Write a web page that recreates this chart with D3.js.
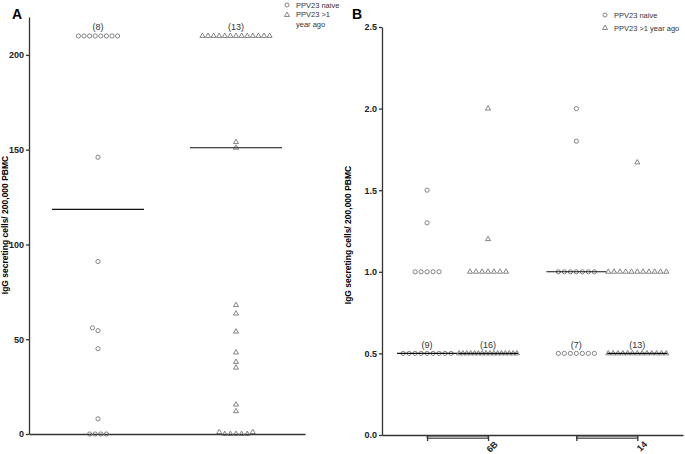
<!DOCTYPE html>
<html>
<head>
<meta charset="utf-8">
<script src="https://cdn.jsdelivr.net/npm/d3@7"></script>
<style>
  body { margin: 0; background: #fff; }
  svg { font-family: "Liberation Sans", Arial, sans-serif; }
  .tick text { font-weight: bold; font-size: 9px; fill: #222; }
  .axis path, .axis line { stroke: #333; stroke-width: 1.3; }
</style>
</head>
<body>
<div id="chart"></div>
<script>
// ---------------- data ----------------
// panel A: total IgG secreting cells, two groups
var groupsA = ["PPV23 naive", "PPV23 >1 year ago"];
var naiveA = [210, 210, 210, 210, 210, 210, 210, 210, 146, 91, 56, 54.5, 45, 8, 0, 0, 0, 0];
var priorA = [210, 210, 210, 210, 210, 210, 210, 210, 210, 210, 210, 210, 210,
              154, 151, 68, 63.5, 54, 43, 38, 35, 15.5, 12, 1, 0, 0, 0, 0, 0, 1];
var mediansA = [118.5, 151];
var countAtA = [210, 210];     // the row that carries the "(n)" label
var ticksA = [0, 50, 100, 150, 200];

// panel B: serotype specific, two serotypes x two groups
var serotypesB = ["6B", "14"];
var naive6B = [1.5, 1.3, 1, 1, 1, 1, 1, 0.5, 0.5, 0.5, 0.5, 0.5, 0.5, 0.5, 0.5, 0.5];
var prior6B = [2.0, 1.2, 1, 1, 1, 1, 1, 1, 1,
               0.5, 0.5, 0.5, 0.5, 0.5, 0.5, 0.5, 0.5, 0.5, 0.5, 0.5, 0.5, 0.5, 0.5, 0.5, 0.5];
var naive14 = [2.0, 1.8, 1, 1, 1, 1, 1, 1, 1, 0.5, 0.5, 0.5, 0.5, 0.5, 0.5, 0.5];
var prior14 = [1.67, 1, 1, 1, 1, 1, 1, 1, 1, 1, 1, 1,
               0.5, 0.5, 0.5, 0.5, 0.5, 0.5, 0.5, 0.5, 0.5, 0.5, 0.5, 0.5, 0.5];
var mediansB = [0.5, 0.5, 1.0, 0.5];
var countAtB = [0.5, 0.5, 0.5, 0.5];
var ticksB = [0, 0.5, 1.0, 1.5, 2.0, 2.5];
var positionsB = [1, 2, 3.45, 4.45];   // column positions on the x scale

var width = 685, height = 454;
var ptColor = "#666";

var svg = d3.select("#chart").append("svg")
    .attr("width", width).attr("height", height);

var tri = d3.symbol().type(d3.symbolTriangle).size(11);

// simple column scatter layout: spread equal values sideways, squeeze long rows
function swarm(values, y, s, maxW) {
    var sorted = values.slice().sort(function (a, b) { return a - b; });
    var pts = [];
    sorted.forEach(function (v) {
        var yy = y(v);
        for (var k = 0; k < 60; k++) {
            var off = (k % 2 ? -1 : 1) * Math.ceil(k / 2) * s;
            var hit = pts.some(function (p) {
                return Math.hypot(p.dx - off, p.y - yy) < s * 0.95;
            });
            if (!hit) { pts.push({ v: v, y: yy, dx: off }); break; }
        }
    });
    var rows = d3.group(pts, function (p) { return p.v; });
    rows.forEach(function (row) {
        if (row.length < 2) return;
        var m = d3.mean(row, function (p) { return p.dx; });
        var ext = d3.extent(row, function (p) { return p.dx; });
        var k = (ext[1] - ext[0]) > maxW ? maxW / (ext[1] - ext[0]) : 1;
        row.forEach(function (p) { p.dx = (p.dx - m) * k; });
    });
    return pts;
}

function drawPoints(g, pts, cx, shape) {
    if (shape === "circle") {
        g.selectAll(null).data(pts).enter().append("circle")
            .attr("cx", function (p) { return cx + p.dx; })
            .attr("cy", function (p) { return p.y; })
            .attr("r", 2.1)
            .attr("fill", "none").attr("stroke", ptColor).attr("stroke-width", 0.8);
    } else {
        g.selectAll(null).data(pts).enter().append("path")
            .attr("d", tri)
            .attr("transform", function (p) { return "translate(" + (cx + p.dx) + "," + p.y + ")"; })
            .attr("fill", "none").attr("stroke", ptColor).attr("stroke-width", 0.8);
    }
}

function legend(g, x, y, lines, gap) {
    var row = g.append("g").attr("transform", "translate(" + x + "," + y + ")")
        .style("font-size", "7.5px").style("fill", "#333");
    row.append("circle").attr("cx", 0).attr("cy", 0).attr("r", 2)
        .attr("fill", "none").attr("stroke", ptColor).attr("stroke-width", 0.8);
    row.append("path").attr("d", tri).attr("transform", "translate(0," + gap + ")")
        .attr("fill", "none").attr("stroke", ptColor).attr("stroke-width", 0.8);
    lines.forEach(function (l) {
        row.append("text").attr("x", 9).attr("y", l.y + 2.7).text(l.t);
    });
}

function countLabel(g, x, y, n) {
    g.append("text").attr("x", x).attr("y", y).attr("text-anchor", "middle")
        .style("font-size", "9px").style("fill", "#333").text("(" + n + ")");
}

// ================= panel A =================
var yA = d3.scaleLinear().domain([0, 220]).range([434, 17]);
var xA = d3.scalePoint().domain(groupsA).range([29, 305]).padding(0.5);
var gA = svg.append("g");

gA.append("g").attr("class", "axis").attr("transform", "translate(29,0)")
    .call(d3.axisLeft(yA).tickValues(ticksA).tickSize(3).tickSizeOuter(0).tickPadding(2));
gA.append("g").attr("class", "axis").attr("transform", "translate(0," + yA(0) + ")")
    .call(d3.axisBottom(d3.scaleLinear().range([29, 305])).tickValues([]).tickSizeOuter(0));

[naiveA, priorA].forEach(function (vals, i) {
    var cx = xA(groupsA[i]);
    var pts = swarm(vals, yA, 5.6, 90);
    drawPoints(gA, pts, cx, i === 0 ? "circle" : "triangle");
    var half = xA.step() / 3;
    gA.append("line").attr("x1", cx - half).attr("x2", cx + half)
        .attr("y1", yA(mediansA[i])).attr("y2", yA(mediansA[i]))
        .attr("stroke", "#111").attr("stroke-width", 1.1);
    var n = vals.filter(function (v) { return v === countAtA[i]; }).length;
    countLabel(gA, cx, yA(countAtA[i]) - 6, n);
});

gA.append("text").attr("x", 12).attr("y", 19).style("font-weight", "bold")
    .style("font-size", "14px").text("A");
gA.append("text").attr("transform", "translate(8,225) rotate(-90)")
    .attr("text-anchor", "middle").style("font-weight", "bold").style("font-size", "8.5px")
    .text("IgG secreting cells/ 200,000 PBMC");
legend(gA, 287, 5, [{ t: "PPV23 naive", y: 0 }, { t: "PPV23 >1", y: 9.5 }, { t: "year ago", y: 19 }], 10);

// ================= panel B =================
var yB = d3.scaleLinear().domain([0, 2.5]).range([435, 27]);
var xB = d3.scaleLinear().domain([0.26, 5.2]).range([382, 683]);
var gB = svg.append("g");

gB.append("g").attr("class", "axis").attr("transform", "translate(382,0)")
    .call(d3.axisLeft(yB).tickValues(ticksB).tickSize(3).tickSizeOuter(0).tickPadding(2)
        .tickFormat(d3.format(".1f")));

var xAxisB = gB.append("g").attr("class", "axis").attr("transform", "translate(0," + yB(0) + ")");
// grey bracket under each serotype pair, drawn first so the ticks sit on top
serotypesB.forEach(function (s, i) {
    var x0 = xB(positionsB[2 * i]), x1 = xB(positionsB[2 * i + 1]);
    xAxisB.append("rect").attr("x", x0).attr("y", 0.8).attr("width", x1 - x0).attr("height", 2.6)
        .attr("fill", "#b0b0b0").attr("stroke", "#333").attr("stroke-width", 0.7);
});
xAxisB.call(d3.axisBottom(xB).tickValues(positionsB).tickSize(6).tickSizeOuter(0)
        .tickFormat(function (d, i) { return i % 2 ? serotypesB[(i - 1) / 2] : ""; }));
xAxisB.select(".domain").attr("stroke", "#555").attr("stroke-width", 1);
xAxisB.selectAll(".tick line").attr("stroke", "#222").attr("stroke-width", 1.4);
xAxisB.selectAll(".tick text")
    .attr("text-anchor", "end").attr("dx", "0px").attr("dy", "5px")
    .attr("transform", "rotate(-45)");

[naive6B, prior6B, naive14, prior14].forEach(function (vals, i) {
    var cx = xB(positionsB[i]);
    var pts = swarm(vals, yB, 6, 58);
    drawPoints(gB, pts, cx, i % 2 === 0 ? "circle" : "triangle");
    gB.append("line").attr("x1", cx - 30).attr("x2", cx + 30)
        .attr("y1", yB(mediansB[i])).attr("y2", yB(mediansB[i]))
        .attr("stroke", "#111").attr("stroke-width", 1.1);
    var n = vals.filter(function (v) { return v === countAtB[i]; }).length;
    countLabel(gB, cx, yB(countAtB[i]) - 5, n);
});

gB.append("text").attr("x", 352).attr("y", 19).style("font-weight", "bold")
    .style("font-size", "14px").text("B");
gB.append("text").attr("transform", "translate(351,235) rotate(-90)")
    .attr("text-anchor", "middle").style("font-weight", "bold").style("font-size", "8.5px")
    .text("IgG secreting cells/ 200,000 PBMC");
legend(gB, 605, 15, [{ t: "PPV23 naive", y: 0 }, { t: "PPV23 >1 year ago", y: 13 }], 13);
</script>
</body>
</html>
